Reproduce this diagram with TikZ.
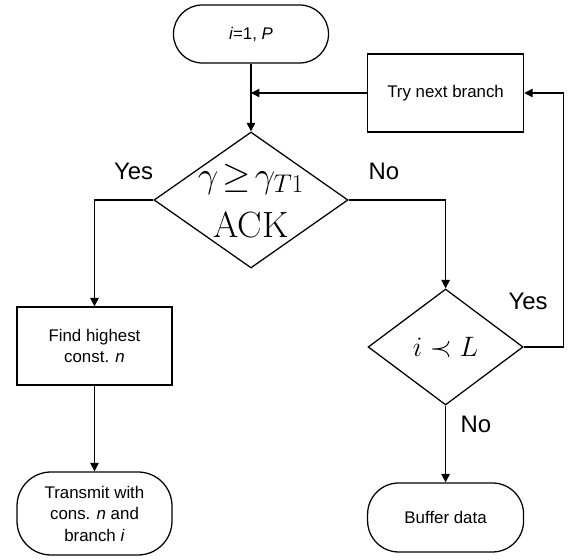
\RequirePackage{fix-cm}
\documentclass[tikz,border=0pt]{standalone}
\usepackage{fontspec}
\setsansfont{Liberation Sans}
\usepackage{amsmath}
\usepackage{tikz}
\usetikzlibrary{positioning,shapes.geometric,arrows.meta}

\begin{document}
\begin{tikzpicture}[
        line width=0.9pt,
        >={Triangle[length=6pt,width=6pt]},
        box/.style={draw, rectangle, minimum width=3.875cm, minimum height=1.95cm, inner sep=0, align=center, font=\sffamily\fontsize{12}{15.3}\selectfont},
        term/.style={box, rounded corners=0.72cm},
        decision/.style={draw, diamond, inner sep=0},
        answer/.style={font=\sffamily\fontsize{17}{20}\selectfont}
    ]
            \useasboundingbox (0,0) rectangle (14.425,14);

            % Draw the start, the boxes and the two tests
            \node[term, minimum height=1.45cm] (start) at (6.275,13.15) {\textit{i}=1, \textit{P}};
            \node[box, minimum width=3.9cm] (trynext) at (11.14,11.675) {Try next branch};
            \node[decision, minimum width=4.85cm, minimum height=3.4cm] (ack) at (6.275,9) {};
            \node[font=\fontsize{26}{36}\selectfont, align=center] (acktext) at (6.275,8.975) {\thickmuskip=2mu $\gamma \geq \gamma_{T1}$\\ACK};
            \node[box] (find) at (2.3625,5.35) {Find highest\\const. \textit{n}};
            \node[decision, minimum width=3.875cm, minimum height=2.9cm] (less) at (11.14,5.325) {};
            \node[font=\fontsize{20}{24}\selectfont] (lesstext) at (less) {$i \prec L$};

            % Draw the two end points
            \node[term, minimum height=2.075cm, rounded corners=0.85cm] (transmit) at (2.3625,1.1625) {Transmit with\\cons. \textit{n} and\\branch \textit{i}};
            \node[term, minimum width=3.9cm, minimum height=1.725cm, rounded corners=0.78cm] (buffer) at (11.14,1.0625) {Buffer data};

            % Draw the arrows between them
            \draw[->] (start) -- (ack);
            \draw[->] (trynext.west) -- (trynext.west -| start.south);
            \draw[->] (ack.west) -| (find.north);
            \draw[->] (ack.east) -| (less.north);
            \draw[->] (find) -- (transmit);
            \draw[->] (less) -- (buffer);
            \draw[->] (less.east) -- ++(1,0) |- (trynext.east);

            % Yes and No on the branches
            \node[answer] (yesack) at (3.3375,9.725) {Yes};
            \node[answer] (noack) at (9.6,9.725) {No};
            \node[answer] (yesless) at (13.2,6.475) {Yes};
            \node[answer] (noless) at (11.9,3.4) {No};
        \end{tikzpicture}
\end{document}
